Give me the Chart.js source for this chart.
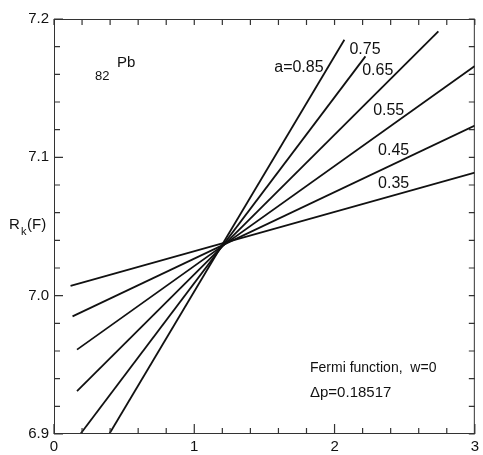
<!DOCTYPE html>
<html>
<head>
<meta charset="utf-8">
<script src="https://cdn.jsdelivr.net/npm/chart.js@4/dist/chart.umd.min.js"></script>
<style>
  html, body { margin: 0; padding: 0; background: #fff; }
  #wrap { width: 483px; height: 455px; }
</style>
</head>
<body>
<div id="wrap"><canvas id="myChart"></canvas></div>
<script>
// parameter a for each straight line
const alphas = ['0.35', '0.45', '0.55', '0.65', '0.75', '0.85'];
// end points of every line (x in the first, R_k(F) in the second array)
const lineX = [
  [0.118, 3.0],
  [0.132, 3.0],
  [0.164, 3.0],
  [0.164, 2.74],
  [0.188, 2.22],
  [0.394, 2.07]
];
const lineY = [
  [7.007, 7.089],
  [6.985, 7.123],
  [6.961, 7.166],
  [6.931, 7.191],
  [6.900, 7.173],
  [6.900, 7.185]
];
const xTicks = [0, 1, 2, 3];
const yTicks = [6.9, 7.0, 7.1, 7.2];
const lineLabels = ['0.35', '0.45', '0.55', '0.65', '0.75', 'a=0.85'];

const FONT = '"Liberation Sans", Arial, sans-serif';

const datasets = alphas.map((a, i) => ({
  label: 'a=' + a,
  data: lineX[i].map((x, j) => ({ x: x, y: lineY[i][j] })),
  showLine: true,
  borderColor: '#111',
  borderWidth: 1.8,
  pointRadius: 0,
  fill: false
}));

// where each line label sits, in axis units
const labelPos = [
  [2.31, 7.081],
  [2.31, 7.105],
  [2.275, 7.134],
  [2.197, 7.163],
  [2.106, 7.178],
  [1.57, 7.165]
];

const frame = {
  id: 'frame',
  afterDatasetsDraw(chart) {
    const { ctx, chartArea: a, scales: { x, y } } = chart;
    ctx.save();
    ctx.strokeStyle = '#333';
    ctx.lineWidth = 1;
    ctx.strokeRect(a.left + 0.5, a.top + 0.5, a.right - a.left - 1, a.bottom - a.top - 1);

    // inward ticks on all four sides
    ctx.lineWidth = 1.2;
    ctx.beginPath();
    for (let k = 0; k <= 15; k++) {
      const v = k * 0.2;
      const px = x.getPixelForValue(v);
      const len = (k % 5 === 0) ? 10 : 6;
      ctx.moveTo(px, a.bottom); ctx.lineTo(px, a.bottom - len);
      ctx.moveTo(px, a.top); ctx.lineTo(px, a.top + 6);
    }
    for (let k = 0; k <= 15; k++) {
      const v = 6.9 + k * 0.02;
      const py = y.getPixelForValue(v);
      const len = (k % 5 === 0) ? 9 : 6;
      ctx.moveTo(a.left, py); ctx.lineTo(a.left + len, py);
      ctx.moveTo(a.right, py); ctx.lineTo(a.right - 6, py);
    }
    ctx.stroke();

    ctx.fillStyle = '#111';
    ctx.textBaseline = 'middle';
    ctx.textAlign = 'left';
    ctx.font = '16px ' + FONT;
    lineLabels.forEach((t, i) => {
      ctx.fillText(t, x.getPixelForValue(labelPos[i][0]), y.getPixelForValue(labelPos[i][1]));
    });

    // element tag
    ctx.font = '13px ' + FONT;
    ctx.fillText('82', 95, 76);
    ctx.font = '15px ' + FONT;
    ctx.fillText('Pb', 117, 63);

    // y axis title
    ctx.font = '15px ' + FONT;
    ctx.fillText('R', 9, 225);
    ctx.font = '11px ' + FONT;
    ctx.fillText('k', 21, 232);
    ctx.font = '15px ' + FONT;
    ctx.fillText('(F)', 27, 225);

    ctx.font = '14px ' + FONT;
    ctx.fillText('Fermi function,  w=0', 310, 368);
    ctx.font = '15px ' + FONT;
    ctx.fillText('\u0394p=0.18517', 310, 393);
    ctx.restore();
  }
};

new Chart('myChart', {
  type: 'scatter',
  data: { datasets: datasets },
  options: {
    responsive: true,
    maintainAspectRatio: false,
    animation: false,
    layout: { padding: { top: 19, right: 3, left: 0, bottom: 0 } },
    plugins: { legend: { display: false }, tooltip: { enabled: false } },
    scales: {
      x: {
        type: 'linear', min: 0, max: 3,
        afterFit(s) { s.height = 21; },
        afterBuildTicks(s) { s.ticks = xTicks.map(v => ({ value: v })); },
        grid: { display: false, drawTicks: false },
        border: { display: false },
        ticks: { color: '#111', padding: 4, font: { family: FONT, size: 15 }, maxRotation: 0 }
      },
      y: {
        type: 'linear', min: 6.9, max: 7.2,
        afterFit(s) { s.width = 54; },
        afterBuildTicks(s) { s.ticks = yTicks.map(v => ({ value: v })); },
        grid: { display: false, drawTicks: false },
        border: { display: false },
        ticks: { color: '#111', padding: 5, font: { family: FONT, size: 15 },
          callback: v => Number(v).toFixed(1) }
      }
    }
  },
  plugins: [frame]
});
</script>
</body>
</html>
